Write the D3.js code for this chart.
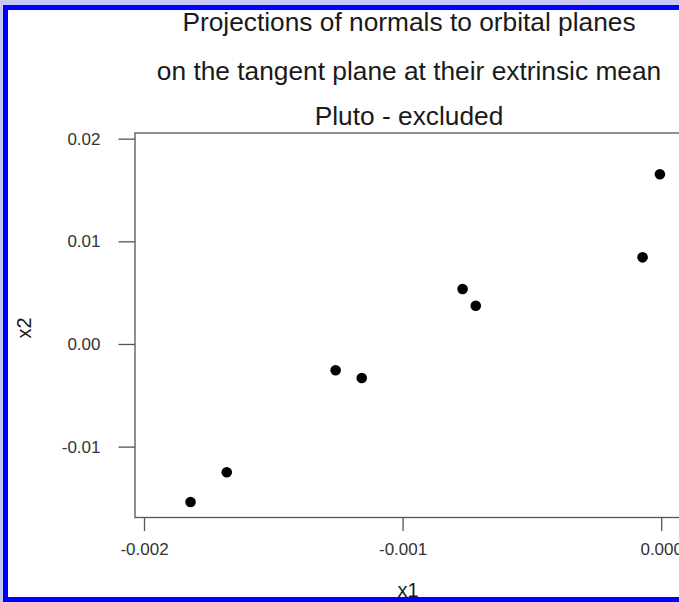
<!DOCTYPE html>
<html>
<head>
<meta charset="utf-8">
<script src="https://cdn.jsdelivr.net/npm/d3@7"></script>
<style>
  html, body { margin: 0; padding: 0; background: #ffffff; }
  svg { display: block; }
  text { font-family: "Liberation Sans", Arial, sans-serif; }
</style>
</head>
<body>
<svg id="chart" width="679" height="602"></svg>
<script>
// Projected normals of the planetary orbital planes (Pluto left out)
const x1Values = [-0.00182, -0.00168, -0.001259, -0.001158, -0.000768, -0.000717, -0.000072, -0.000005];
const x2Values = [-0.01539, -0.01250, -0.00256, -0.00331, 0.00536, 0.00373, 0.00844, 0.01653];

const xTicks = [-0.002, -0.001, 0.000];
const xTickLabels = ["-0.002", "-0.001", "0.000"];
const yTicks = [0.02, 0.01, 0.00, -0.01];
const yTickLabels = ["0.02", "0.01", "0.00", "-0.01"];

const titleLines = [
  "Projections of normals to orbital planes",
  "on the tangent plane at their extrinsic mean",
  "Pluto - excluded"
];
const xLabel = "x1";
const yLabel = "x2";

const W = 679, H = 602;
const box = { left: 135, top: 133, right: 684, bottom: 517.5 };

const svg = d3.select("#chart");

svg.append("rect").attr("x", 0).attr("y", 0).attr("width", W).attr("height", H).attr("fill", "#ffffff");

// Scales: the plot region spans slightly beyond the data range
const x = d3.scaleLinear().domain([-0.0020348, 0.0000882]).range([box.left, box.right]);
const y = d3.scaleLinear().domain([-0.016905, 0.020553]).range([box.bottom, box.top]);

// Plot frame
svg.append("rect")
  .attr("x", box.left).attr("y", box.top)
  .attr("width", box.right - box.left).attr("height", box.bottom - box.top)
  .attr("fill", "none").attr("stroke", "#555").attr("stroke-width", 1.3);

// Bottom axis
const xAxis = d3.axisBottom(x)
  .tickValues(xTicks)
  .tickFormat((d, i) => xTickLabels[i])
  .tickSizeOuter(0)
  .tickSizeInner(13.5)
  .tickPadding(12);
const gx = svg.append("g").attr("transform", `translate(0,${box.bottom})`).call(xAxis);
gx.select(".domain").remove();
gx.selectAll(".tick line").attr("stroke", "#555").attr("stroke-width", 1.3);
gx.selectAll(".tick text")
  .attr("fill", "#333").attr("font-size", 17).attr("font-family", "Liberation Sans, Arial, sans-serif");

// Left axis
const yAxis = d3.axisLeft(y)
  .tickValues(yTicks)
  .tickFormat((d, i) => yTickLabels[i])
  .tickSizeOuter(0)
  .tickSizeInner(16.5)
  .tickPadding(18);
const gy = svg.append("g").attr("transform", `translate(${box.left},0)`).call(yAxis);
gy.select(".domain").remove();
gy.selectAll(".tick line").attr("stroke", "#555").attr("stroke-width", 1.3);
gy.selectAll(".tick text")
  .attr("fill", "#333").attr("font-size", 17).attr("font-family", "Liberation Sans, Arial, sans-serif");

// Points
const pts = x1Values.map((v, i) => ({ x1: v, x2: x2Values[i] }));
svg.append("g").selectAll("circle").data(pts).join("circle")
  .attr("cx", d => x(d.x1)).attr("cy", d => y(d.x2))
  .attr("r", 5.3).attr("fill", "#000");

// Titles
const titleBaselines = [31, 80, 125];
svg.append("g").selectAll("text").data(titleLines).join("text")
  .attr("x", 409).attr("y", (d, i) => titleBaselines[i])
  .attr("text-anchor", "middle").attr("font-size", 26.3).attr("fill", "#1a1a1a")
  .text(d => d);

// Axis labels
svg.append("text").attr("x", 408).attr("y", 597)
  .attr("text-anchor", "middle").attr("font-size", 20).attr("fill", "#1a1a1a").text(xLabel);
svg.append("text").attr("transform", "translate(31,328) rotate(-90)")
  .attr("text-anchor", "middle").attr("font-size", 20).attr("fill", "#1a1a1a").text(yLabel);

// Blue frame round the figure (open on the right where it is cut)
svg.append("rect").attr("x", 0).attr("y", 0).attr("width", W).attr("height", 5).attr("fill", "#c8c8f4");
svg.append("rect").attr("x", 0).attr("y", 0).attr("width", 3).attr("height", H).attr("fill", "#c8c8f4");
svg.append("rect").attr("x", 3).attr("y", 5).attr("width", W - 3).attr("height", 5).attr("fill", "#0000ff");
svg.append("rect").attr("x", 3).attr("y", 5).attr("width", 5).attr("height", H - 5).attr("fill", "#0000ff");
svg.append("rect").attr("x", 3).attr("y", 597).attr("width", W - 3).attr("height", 5).attr("fill", "#0000ff");
</script>
</body>
</html>
